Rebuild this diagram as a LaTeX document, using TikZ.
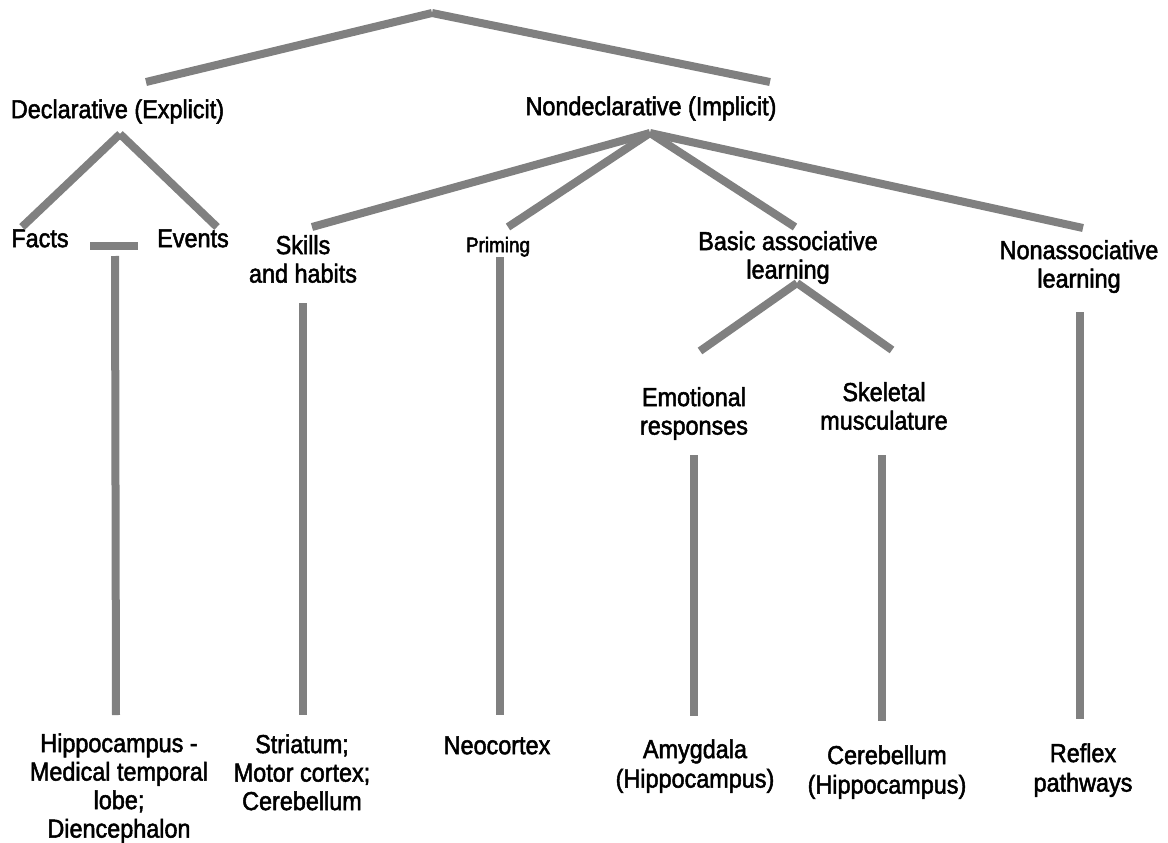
\documentclass[tikz,border=0pt]{standalone}
\usepackage{fontspec}
\setmainfont{Liberation Sans}[FakeStretch=0.9]
\newcommand{\heavyon}{\special{pdf:literal direct 2 Tr 0.5 w}}
\newcommand{\heavyoff}{\special{pdf:literal direct 0 Tr}}
\begin{document}
\begin{tikzpicture}[x=1pt,y=-1pt,
  lbl/.style={inner sep=0pt,align=center,anchor=north,yshift=19.95pt,
    font=\fontsize{26}{28.5}\selectfont,
    execute at begin node={\heavyon\strut},execute at end node={\heavyoff}},
  small/.style={inner sep=0pt,align=center,anchor=north,yshift=17.5pt,
    font=\fontsize{21}{25}\selectfont,
    execute at begin node={\heavyon\strut},execute at end node={\heavyoff}},
  bar/.style={draw=gray,line width=8pt}]
\useasboundingbox (0,0) rectangle (1168,843);
% text nodes (positioned at the first baseline)
\node[lbl] (decl) at (117.5,118) {Declarative (Explicit)};
\node[lbl] (nondecl) at (651,115) {Nondeclarative (Implicit)};
\node[lbl] (facts) at (40,247) {Facts};
\node[lbl] (events) at (193,247) {Events};
\node[lbl] (skills) at (303,255) {Skills\\and habits};
\node[small] (priming) at (498,252) {Priming};
\node[lbl] (basic) at (788,251) {Basic associative\\learning};
\node[lbl] (nonassoc) at (1079,260) {Nonassociative\\learning};
\node[lbl] (emot) at (694,407) {Emotional\\responses};
\node[lbl] (skel) at (884,402) {Skeletal\\musculature};
\node[lbl] (hippo) at (119,753) {Hippocampus -\\Medical temporal\\lobe;\\Diencephalon};
\node[lbl] (striat) at (302,754) {Striatum;\\Motor cortex;\\Cerebellum};
\node[lbl] (neo) at (497,754) {Neocortex};
\node[lbl] (amyg) at (695,759) {Amygdala\\[1pt](Hippocampus)};
\node[lbl] (cereb) at (887,765) {Cerebellum\\[1pt](Hippocampus)};
\node[lbl] (reflex) at (1083,763) {Reflex\\[1pt]pathways};
% connector end points
\coordinate (top) at (432,13);
\coordinate (topL) at (146,82);
\coordinate (topR) at (770,82);
\coordinate (dA) at (120,134);
\coordinate (dL) at (22,227);
\coordinate (dR) at (217,227);
\coordinate (barL) at (90,246);
\coordinate (barR) at (138,246);
\coordinate (hT) at (115,256);
\coordinate (hB) at (116,715);
\coordinate (nA) at (650,133);
\coordinate (nS) at (312,227);
\coordinate (nP) at (508,227);
\coordinate (nB) at (795,227);
\coordinate (nN) at (1083,228);
\coordinate (bA) at (797,283);
\coordinate (bL) at (700,351);
\coordinate (bR) at (892,350);
\coordinate (sT) at (303,303);
\coordinate (sB) at (303,715);
\coordinate (pT) at (500,257);
\coordinate (pB) at (500,715);
\coordinate (eT) at (694,455);
\coordinate (eB) at (694,716);
\coordinate (kT) at (882,455);
\coordinate (kB) at (882,721);
\coordinate (rT) at (1080,312);
\coordinate (rB) at (1080,719);
% connectors
\draw[bar] (top) -- (topL);
\draw[bar] (top) -- (topR);
\draw[bar] (dA) -- (dL);
\draw[bar] (dA) -- (dR);
\draw[bar] (barL) -- (barR);
\draw[bar] (hT) -- (hB);
\draw[bar] (nA) -- (nS);
\draw[bar] (nA) -- (nP);
\draw[bar] (nA) -- (nB);
\draw[bar] (nA) -- (nN);
\draw[bar] (bA) -- (bL);
\draw[bar] (bA) -- (bR);
\draw[bar] (sT) -- (sB);
\draw[bar] (pT) -- (pB);
\draw[bar] (eT) -- (eB);
\draw[bar] (kT) -- (kB);
\draw[bar] (rT) -- (rB);
\end{tikzpicture}
\end{document}
